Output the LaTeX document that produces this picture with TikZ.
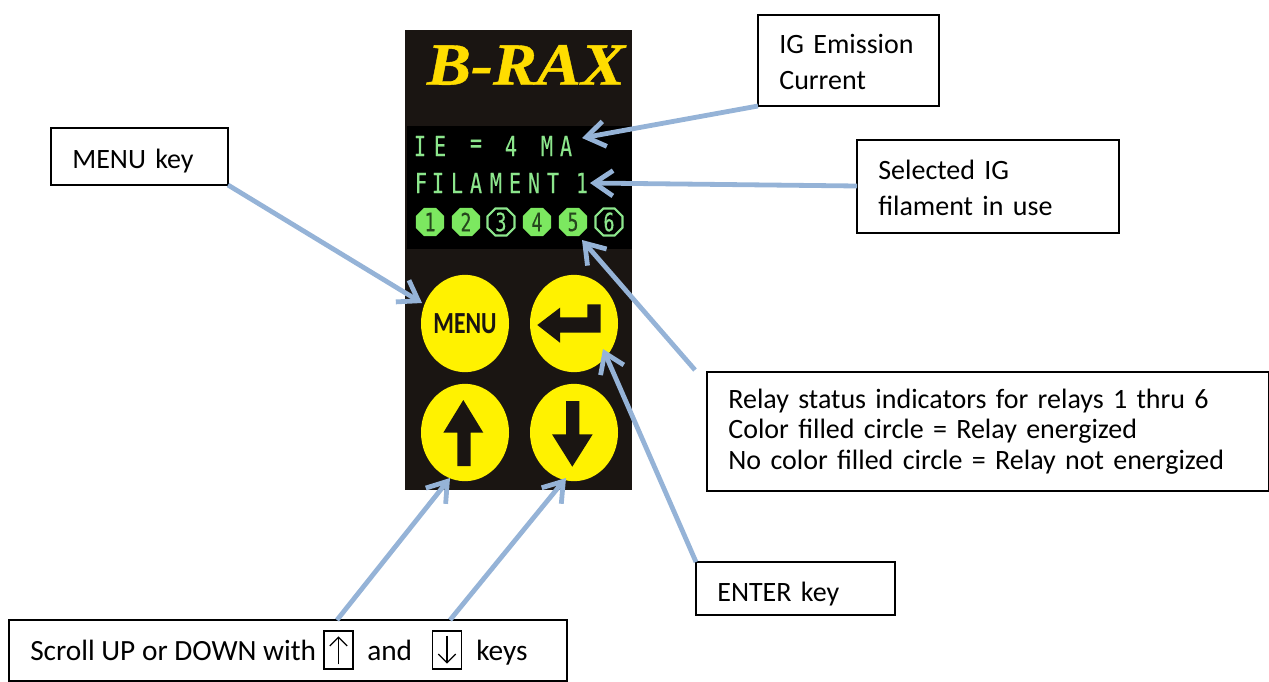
\documentclass[tikz,border=0pt]{standalone}
\usepackage{fontspec}
\usepackage{graphicx}
\usetikzlibrary{arrows.meta,shapes.geometric}
\setmainfont{Carlito}
\newfontfamily\logofont[BoldItalicFeatures={FakeStretch=1.1,FakeBold=0.7}]{Liberation Serif}
\newfontfamily\dotfont[FakeStretch=0.72,FakeBold=0.3]{DejaVu Sans Mono}
\definecolor{panel}{HTML}{1A1512}
\definecolor{ledgreen}{HTML}{7CE860}
\definecolor{dotgreen}{HTML}{8CE68C}
\definecolor{keyyellow}{HTML}{FFF200}
\definecolor{logoyellow}{HTML}{FFDD00}
\definecolor{pointer}{HTML}{95B3D7}
\tikzset{
  x=0.75pt,y=-0.75pt,
  callout/.style={draw=black,line width=0.9pt,fill=white,inner sep=0pt,inner xsep=16pt,outer sep=0pt,align=left,anchor=north west,font=\fontsize{21pt}{27pt}\selectfont},
  bodytext/.style={inner sep=0pt,anchor=base west,font=\fontsize{22pt}{25pt}\selectfont},
  pointerline/.style={draw=pointer,line width=3.6pt,-{Straight Barb[length=14pt,width=19pt,line width=3.6pt]}},
  keycap/.style={ellipse,fill=keyyellow,draw=none,minimum width=66pt,minimum height=73pt,inner sep=0pt},
  keyglyph/.style={fill=panel,draw=none},
  dotchar/.style={text=dotgreen,inner sep=0pt,font=\dotfont\fontsize{21pt}{21pt}\selectfont},
  ledon/.style={regular polygon,regular polygon sides=8,minimum size=23pt,inner sep=0pt,fill=ledgreen,text=black!70!ledgreen,font=\dotfont\fontsize{19pt}{19pt}\selectfont},
  ledoff/.style={regular polygon,regular polygon sides=8,minimum size=21.5pt,inner sep=0pt,draw=dotgreen,line width=1.6pt,fill=black,text=dotgreen,font=\dotfont\fontsize{19pt}{19pt}\selectfont},
  arrowbox/.style={draw=black,line width=1.1pt,minimum width=21.5pt,minimum height=28.5pt,inner sep=0pt},
  boxarrow/.style={line width=1pt,-{Straight Barb[length=6.5pt,width=13pt]}},
}
\begin{document}
\begin{tikzpicture}
\useasboundingbox (0,0) rectangle (1269,681);
% panel
\fill[panel] (405,30) rectangle (632,490);
\fill[black] (407,126) rectangle (632,249);
\node[inner sep=0pt,text=logoyellow,font=\logofont\bfseries\itshape\fontsize{45pt}{45pt}\selectfont] (logo) at (526,65) {B-RAX};
% display row 1
\node[dotchar] (c1) at (420,146) {I};
\node[dotchar] (c2) at (440,146) {E};
\node[dotchar] (c3) at (476,146) {=};
\node[dotchar] (c4) at (511,146) {4};
\node[dotchar] (c5) at (547,146) {M};
\node[dotchar] (c6) at (566,146) {A};
% display row 2
\node[dotchar] (d1) at (421,183) {F};
\node[dotchar] (d2) at (438,183) {I};
\node[dotchar] (d3) at (457,183) {L};
\node[dotchar] (d4) at (476,183) {A};
\node[dotchar] (d5) at (496,183) {M};
\node[dotchar] (d6) at (515,183) {E};
\node[dotchar] (d7) at (534,183) {N};
\node[dotchar] (d8) at (553,183) {T};
\node[dotchar] (d9) at (582,183) {1};
% relay LEDs
\node[ledon] (r1) at (430,222) {1};
\node[ledon] (r2) at (466,222) {2};
\node[ledoff] (r3) at (501,222) {3};
\node[ledon] (r4) at (537,222) {4};
\node[ledon] (r5) at (573,222) {5};
\node[ledoff] (r6) at (609,222) {6};
% keys
\node[keycap,font=\bfseries\fontsize{23pt}{23pt}\selectfont,text=panel] (menukey) at (465,323.5) {\makebox[0pt]{\scalebox{.77}[1]{MENU}}};
\node[keycap] (enterkey) at (574,323.5) {};
\node[keycap] (upkey) at (465,432.5) {};
\node[keycap] (downkey) at (574,432.5) {};
\fill[keyglyph] (537.3,325) -- (560,307.7) -- (560,317.3) -- (587.3,317.3) -- (587.3,304.3) -- (600.7,304.3) -- (600.7,332.7) -- (560,332.7) -- (560,342.7) -- cycle;
\fill[keyglyph] (463.3,400) -- (483.3,432.7) -- (470.7,432.7) -- (470.7,466) -- (457.3,466) -- (457.3,432.7) -- (443.3,432.7) -- cycle;
\fill[keyglyph] (566,401) -- (579.3,401) -- (579.3,434.3) -- (592.7,434.3) -- (572.3,466.7) -- (552,434.3) -- (566,434.3) -- cycle;
% callouts
\node[callout,minimum width=135.75pt,minimum height=68.25pt,text width=103.75pt] (igbox) at (758,15) {\rule{0pt}{16pt}IG Emission\\Current};
\node[callout,minimum width=196.5pt,minimum height=69.75pt,text width=164.5pt] (selbox) at (857,140) {\rule{0pt}{16pt}Selected IG\\filament in use};
\node[callout,minimum width=132.75pt,minimum height=42.75pt,text width=100.75pt] (menubox) at (51,128) {\rule{0pt}{21pt}MENU key};
\node[callout,minimum width=421.5pt,minimum height=89.25pt,text width=389.5pt,font=\fontsize{21pt}{23pt}\selectfont] (relaybox) at (707,372) {Relay status indicators for relays 1 thru 6\\Color filled circle = Relay energized\\No color filled circle = Relay not energized};
\node[callout,minimum width=149.25pt,minimum height=39.75pt,text width=117.25pt] (enterbox) at (696,562) {\rule{0pt}{22.5pt}ENTER key};
\node[callout,minimum width=418.5pt,minimum height=45.75pt] (scrollbox) at (9,620) {};
\node[bodytext] (scrolla) at (30,660) {Scroll UP or DOWN with};
\node[arrowbox] (upbox) at (338.5,650) {};
\node[bodytext] (scrollb) at (367,660) {and};
\node[arrowbox] (downbox) at (447,650) {};
\node[bodytext] (scrollc) at (476,660) {keys};
\draw[boxarrow] ([yshift=4pt]upbox.south) -- ([yshift=-4.5pt]upbox.north);
\draw[boxarrow] ([yshift=-4pt]downbox.north) -- ([yshift=4.5pt]downbox.south);
% connector ends
\coordinate (tipie) at (582,138);
\coordinate (tipfil) at (590,183);
\coordinate (tiprelay) at (582,240);
\coordinate (tailrelay) at (695,370);
\coordinate (tipmenu) at (422,303);
\coordinate (tipenter) at (603,349);
\coordinate (tipup) at (450,478);
\coordinate (tipdown) at (566,478);
\coordinate (tailup) at (337,620);
\coordinate (taildown) at (450,620);
\coordinate (tailsel) at (857,186);
\draw[pointerline] (igbox.south west) -- (tipie);
\draw[pointerline] (tailsel) -- (tipfil);
\draw[pointerline] (tailrelay) -- (tiprelay);
\draw[pointerline] (menubox.south east) -- (tipmenu);
\draw[pointerline] (enterbox.north west) -- (tipenter);
\draw[pointerline] (tailup) -- (tipup);
\draw[pointerline] (taildown) -- (tipdown);
\end{tikzpicture}
\end{document}
